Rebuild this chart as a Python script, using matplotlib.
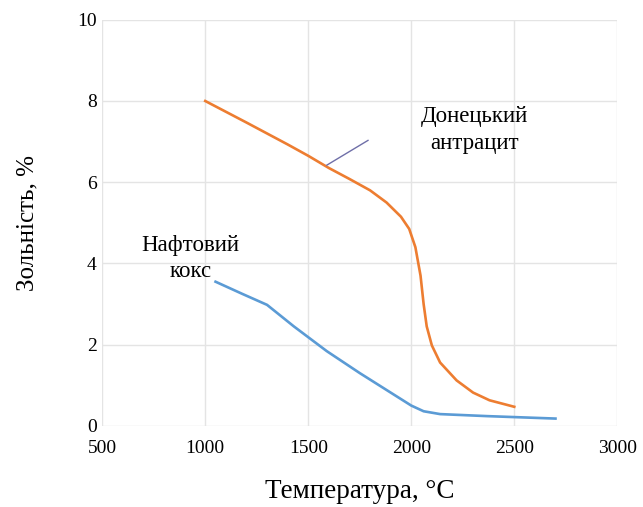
import matplotlib.pyplot as plt

plt.rcParams['font.family'] = ['Liberation Serif', 'DejaVu Serif']

# Донецький антрацит
t_antr = [1000, 1200, 1400, 1500, 1600, 1700, 1800, 1880, 1950, 1990, 2020, 2045,
          2060, 2075, 2100, 2140, 2220, 2300, 2380, 2500]
ash_antr = [8.0, 7.47, 6.93, 6.65, 6.35, 6.08, 5.8, 5.5, 5.15, 4.85, 4.4, 3.7,
            3.0, 2.45, 1.98, 1.56, 1.12, 0.82, 0.63, 0.47]

# Нафтовий кокс
t_coke = [1050, 1180, 1300, 1430, 1590, 1750, 1900, 2000, 2060, 2140, 2370, 2700]
ash_coke = [3.55, 3.25, 2.98, 2.45, 1.84, 1.3, 0.82, 0.5, 0.36, 0.29, 0.24, 0.18]

x_ticks = [500, 1000, 1500, 2000, 2500, 3000]
y_ticks = [0, 2, 4, 6, 8, 10]

fig = plt.figure(figsize=(6.43, 5.07), dpi=100)
ax = fig.add_axes([0.159, 0.16, 0.801, 0.801])

ax.plot(t_antr, ash_antr, color='#ED7D31', lw=1.9)
ax.plot(t_coke, ash_coke, color='#5B9BD5', lw=1.9)

# leader line to the label
ax.plot([1590, 1790], [6.42, 7.03], color='#6F6FA8', lw=1.0)

ax.text(2306, 7.29, 'Донецький\nантрацит', ha='center', va='center', fontsize=16.5,
        linespacing=1.35)
ax.text(927, 4.12, 'Нафтовий\nкокс', ha='center', va='center', fontsize=16.5,
        linespacing=1.35)

ax.set_xlim(500, 3000)
ax.set_ylim(0, 10)
ax.set_xticks(x_ticks)
ax.set_yticks(y_ticks)
ax.tick_params(length=0, labelsize=14)
ax.tick_params(axis='x', pad=10)
ax.tick_params(axis='y', pad=4)
ax.grid(True, color='#E4E4E4', lw=1.0)
ax.set_axisbelow(True)
for s in ax.spines.values():
    s.set_visible(False)

ax.set_xlabel('Температура, °C', fontsize=19.5, labelpad=16)
ax.set_ylabel('Зольність, %', fontsize=18, labelpad=28)

fig.savefig('out.png', dpi=100)
